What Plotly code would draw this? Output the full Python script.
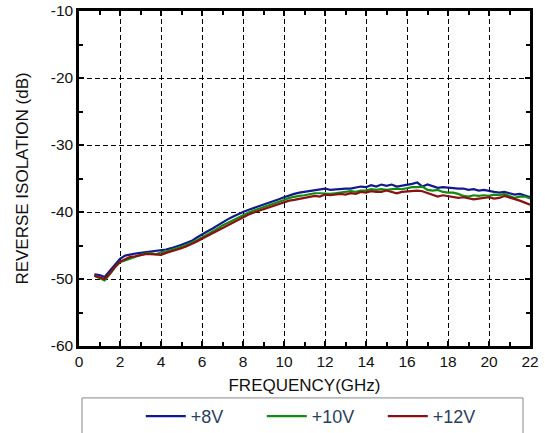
import plotly.graph_objects as go

# frequency points (GHz)
freq = [0.75, 1.0, 1.25, 1.5, 1.75, 2.0, 2.25, 2.5, 2.75, 3.0,
        3.25, 3.5, 3.75, 4.0, 4.25, 4.5, 4.75, 5.0, 5.25, 5.5,
        5.75, 6.0, 6.25, 6.5, 6.75, 7.0, 7.25, 7.5, 7.75, 8.0,
        8.25, 8.5, 8.75, 9.0, 9.25, 9.5, 9.75, 10.0, 10.25, 10.5,
        10.75, 11.0, 11.25, 11.5, 11.75, 12.0, 12.25, 12.5, 12.75, 13.0,
        13.25, 13.5, 13.75, 14.0, 14.25, 14.5, 14.75, 15.0, 15.25, 15.5,
        15.75, 16.0, 16.25, 16.5, 16.75, 17.0, 17.25, 17.5, 17.75, 18.0,
        18.25, 18.5, 18.75, 19.0, 19.25, 19.5, 19.75, 20.0, 20.25, 20.5,
        20.75, 21.0, 21.25, 21.5, 21.75, 22.0]

iso_8v = [-49.3, -49.4, -49.7, -48.8, -47.8, -47.0, -46.5, -46.3, -46.2, -46.1,
          -46.0, -45.9, -45.9, -45.7, -45.6, -45.4, -45.2, -44.9, -44.6, -44.3,
          -43.8, -43.3, -42.9, -42.5, -42.0, -41.5, -41.1, -40.7, -40.3, -40.0,
          -39.7, -39.45, -39.2, -38.95, -38.7, -38.4, -38.1, -37.8, -37.5, -37.3,
          -37.1, -37.0, -36.9, -36.8, -36.6, -36.5, -36.7, -36.6, -36.6, -36.5,
          -36.5, -36.4, -36.2, -36.3, -36.0, -36.2, -35.9, -36.1, -35.9, -36.2,
          -36.1, -36.0, -35.8, -35.6, -36.2, -35.9, -36.2, -36.4, -36.3, -36.4,
          -36.4, -36.5, -36.5, -36.7, -36.6, -36.8, -36.7, -36.9, -37.0, -37.1,
          -37.0, -37.2, -37.4, -37.3, -37.6, -37.8]

iso_10v = [-49.5, -49.8, -50.2, -49.3, -48.3, -47.5, -47.2, -46.9, -46.7, -46.4,
           -46.2, -46.15, -46.3, -46.0, -45.9, -45.7, -45.5, -45.2, -44.9, -44.6,
           -44.2, -43.8, -43.4, -43.0, -42.5, -42.0, -41.6, -41.2, -40.8, -40.45,
           -40.1, -39.8, -39.55, -39.3, -39.05, -38.8, -38.5, -38.2, -37.9, -37.7,
           -37.6, -37.5, -37.3, -37.2, -37.2, -37.3, -37.3, -37.2, -37.1, -37.1,
           -36.9, -37.0, -36.8, -36.8, -36.6, -36.7, -36.6, -36.7, -36.6, -36.5,
           -36.6, -36.4, -36.3, -36.3, -36.2, -36.7, -36.8, -36.7, -37.0, -37.1,
           -37.1, -37.3, -37.6, -37.7, -37.5, -37.6, -37.5, -37.6, -37.4, -37.5,
           -37.3, -37.6, -37.9, -37.7, -37.7, -38.0]

iso_12v = [-49.5, -49.75, -50.0, -49.2, -48.2, -47.4, -47.0, -46.7, -46.6, -46.4,
           -46.3, -46.3, -46.4, -46.4, -46.1, -45.9, -45.7, -45.4, -45.1, -44.8,
           -44.4, -44.0, -43.6, -43.2, -42.7, -42.3, -41.9, -41.5, -41.1, -40.75,
           -40.4, -40.1, -39.85, -39.6, -39.35, -39.1, -38.8, -38.5, -38.3, -38.2,
           -38.05, -37.9, -37.7, -37.6, -37.7, -37.4, -37.5, -37.4, -37.3, -37.4,
           -37.2, -37.3, -37.0, -37.1, -36.9, -37.0, -37.0, -36.8, -37.0, -37.2,
           -37.0, -36.9, -36.9, -36.8, -36.9, -37.2, -37.5, -37.7, -37.5, -37.6,
           -37.8, -37.9, -37.8, -38.0, -38.1, -38.0, -37.9, -37.8, -38.0, -37.9,
           -37.6, -37.8, -38.1, -38.3, -38.6, -38.9]

x_ticks = [0, 2, 4, 6, 8, 10, 12, 14, 16, 18, 20, 22]
y_ticks = [-60, -50, -40, -30, -20, -10]
y_labels = ['-60', '-50', '-40', '-30', '-20', '-10']

series = [('+8V', iso_8v, '#101a8e'),
          ('+10V', iso_10v, '#108c10'),
          ('+12V', iso_12v, '#8c1010')]

FONT = 'Arial, Liberation Sans, sans-serif'

fig = go.Figure()
for name, vals, col in series:
    fig.add_trace(go.Scatter(x=freq, y=vals, mode='lines', name=name,
                             line=dict(color=col, width=2.2)))

axis_common = dict(
    showline=True, linecolor='black', linewidth=2.5, mirror='ticks',
    ticks='inside', ticklen=5, tickcolor='black', tickwidth=1.5,
    showgrid=True, gridcolor='black', gridwidth=1, griddash='5px,3px',
    zeroline=False, tickfont=dict(family=FONT, size=15.5, color='#111'),
)

fig.update_xaxes(range=[0, 22], tickvals=x_ticks,
                 minor=dict(dtick=1, ticks='inside', ticklen=4, tickcolor='black', showgrid=False),
                 title=dict(text='FREQUENCY(GHz)', font=dict(family=FONT, size=17, color='#111'), standoff=10),
                 **axis_common)
fig.update_yaxes(range=[-60, -10], tickvals=y_ticks, ticktext=y_labels,
                 minor=dict(dtick=5, ticks='inside', ticklen=4, tickcolor='black', showgrid=False),
                 title=dict(text='REVERSE ISOLATION (dB)', font=dict(family=FONT, size=17, color='#111'), standoff=18),
                 **axis_common)

# legend frame (runs off the bottom of the picture)
fig.add_shape(type='rect', xref='paper', yref='paper',
              x0=0.0067, x1=0.9845, y0=-0.155, y1=-0.30,
              line=dict(color='#888', width=1), fillcolor='white', layer='below')

fig.update_layout(
    width=545, height=433,
    margin=dict(l=79, r=15, t=11, b=87, autoexpand=False),
    plot_bgcolor='white', paper_bgcolor='white',
    showlegend=True,
    legend=dict(orientation='h', x=0.137, xanchor='left', y=-0.21, yanchor='middle',
                font=dict(family=FONT, size=18), bgcolor='rgba(0,0,0,0)',
                entrywidth=66, itemwidth=40, traceorder='normal'),
)

fig.write_html("out.html", config={'displayModeBar': False},
               post_script="document.body.style.margin='0';")
